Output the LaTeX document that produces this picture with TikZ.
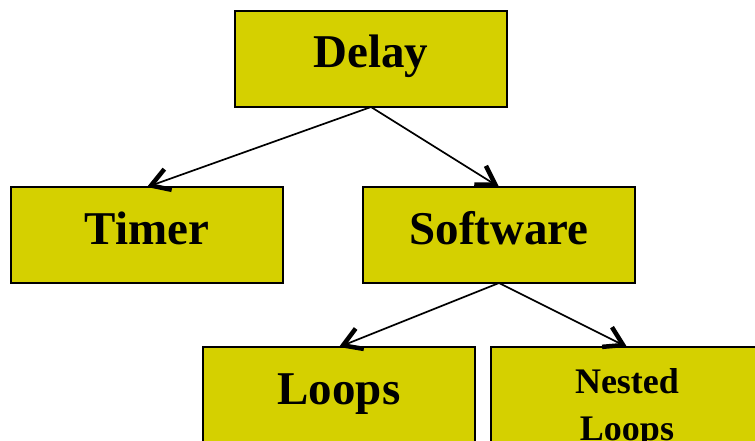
\documentclass[tikz,border=0pt]{standalone}
\usepackage{fontspec}
\setmainfont{Liberation Serif}
\usetikzlibrary{arrows.meta}
\definecolor{boxfill}{RGB}{213,208,0}
\begin{document}
\begin{tikzpicture}[x=1pt,y=-1pt,
  box/.style={draw=black, line width=2.2pt, fill=boxfill,
    minimum width=272pt, minimum height=96pt, inner sep=0pt, outer sep=0pt,
    font=\fontsize{47}{47}\selectfont\bfseries, text height=18pt, text depth=0pt},
  link/.style={line width=1.7pt,
    -{Straight Barb[length=18pt,width=22pt,line width=4.5pt]}}]
\useasboundingbox (0,0) rectangle (755,441);
\clip (0,0) rectangle (755,441);
% hierarchy boxes
\node[box] (delay)  at (371,59)  {Delay};
\node[box] (timer)  at (147,235) {Timer};
\node[box] (soft)   at (499,235) {Software};
\node[box] (loops)  at (339,395) {Loops};
\node[box] (nested) at (627,395) {};
\node[font=\fontsize{36}{47}\selectfont\bfseries, align=center, anchor=base,
  inner sep=0pt] (nestedtext) at (627,440) {Nested\\Loops};
% connectors
\draw[link] (delay.south) -- (timer.north);
\draw[link] (delay.south) -- (soft.north);
\draw[link] (soft.south) -- (loops.north);
\draw[link] (soft.south) -- (nested.north);
\end{tikzpicture}
\end{document}
